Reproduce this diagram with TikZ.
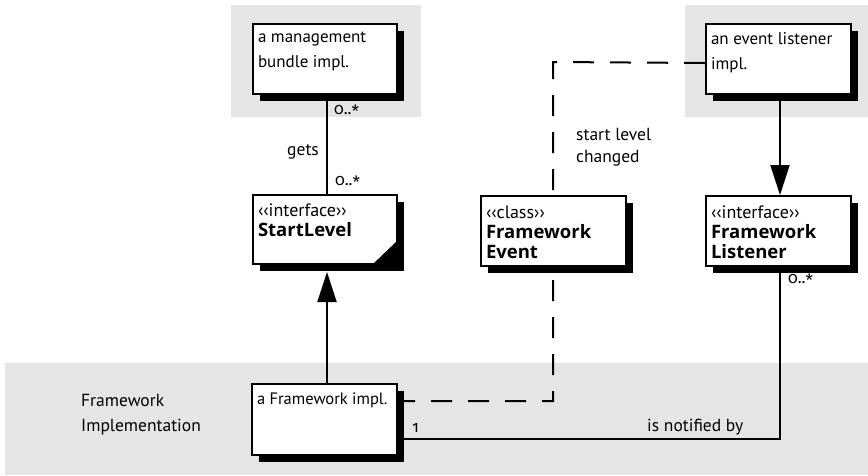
\documentclass[tikz,border=0pt]{standalone}
\usepackage{fontspec}
\setmainfont{PT Sans}
\newfontfamily\namefont{Open Sans}
\newfontfamily\multfont[Numbers=OldStyle]{Fira Sans}
\usetikzlibrary{arrows.meta,shadows}
\pgfdeclarelayer{bgfill}
\pgfdeclarelayer{lines}
\pgfsetlayers{bgfill,lines,main}
\definecolor{zonegray}{RGB}{229,229,229}
\newcommand{\bxc}[3]{\parbox[c][#1][t]{#2}{#3}}
\newcommand{\stereo}[1]{{\fontsize{18}{20}\selectfont ‹‹#1››}}
\newcommand{\umlname}[1]{{\namefont\bfseries\fontsize{18.5}{20}\selectfont #1}}
\newcommand{\mstar}{0..\raisebox{-0.35ex}{\fontsize{17}{17}\selectfont *}}
\newcommand{\clsfont}{\fontsize{18}{20}\selectfont}
\begin{document}
\begin{tikzpicture}[x=1pt,y=-1pt,
  umlbox/.style={draw, line width=2pt, fill=white, anchor=north west, inner xsep=5pt, inner ysep=4pt,
    drop shadow={shadow xshift=7pt, shadow yshift=-7pt, fill=black, opacity=1}},
  conn/.style={line width=2pt},
  dconn/.style={line width=2pt, dash pattern=on 21pt off 16pt},
  lbl/.style={inner sep=0pt, font=\fontsize{17.5}{22}\selectfont, align=left},
  mult/.style={inner sep=0pt, font=\multfont\fontsize{16}{16}\selectfont},
  zone/.style={fill=zonegray},
  tri/.style={-{Triangle[length=30pt,width=19pt]}}
]
\useasboundingbox (0,0) rectangle (868,475);
\begin{pgfonlayer}{bgfill}
\fill[zone] (231,5) rectangle (421,117);
\fill[zone] (685,5) rectangle (868,117);
\fill[zone] (5,363) rectangle (868,475);
\end{pgfonlayer}

\node[umlbox] (mgmt) at (252,23) {\bxc{62pt}{134pt}{\vspace*{4pt}\fontsize{17}{25}\selectfont a management\\bundle impl.}};
\node[umlbox] (evimpl) at (705,23) {\bxc{62pt}{135pt}{\vspace*{4pt}\fontsize{17}{25}\selectfont an event listener\\impl.}};
\node[umlbox] (sl) at (252,194) {\bxc{61pt}{134pt}{\clsfont\vspace*{5pt}\stereo{interface}\\\umlname{StartLevel}}};
\node[umlbox] (fwevent) at (480,195) {\bxc{62pt}{135pt}{\clsfont\vspace*{6pt}\stereo{class}\\\umlname{Framework}\\\umlname{Event}}};
\node[umlbox] (fwlist) at (705,195) {\bxc{62pt}{135pt}{\clsfont\vspace*{6pt}\stereo{interface}\\\umlname{Framework}\\\umlname{Listener}}};
\node[umlbox] (fwimpl) at (251,383) {\bxc{63pt}{135pt}{\vspace*{5pt}\fontsize{16.5}{20}\selectfont a Framework impl.}};

\fill (sl.south east) -- ([xshift=-26pt]sl.south east) -- ([yshift=25pt]sl.south east) -- cycle;

\coordinate (lx) at (327,0);
\coordinate (rx) at (780,0);
\coordinate (ny) at (0,439);
\coordinate (d1) at (553,62);
\coordinate (d2) at (553,401);

\begin{pgfonlayer}{lines}
\draw[conn] (mgmt.south -| lx) -- (sl.north -| lx);
\draw[dconn] ([yshift=-4pt]evimpl.west) -- (d1) -- (d2) -- (fwimpl.east |- d2);
\draw[conn] (fwimpl.east |- ny) -| (fwlist.south -| rx);
\end{pgfonlayer}
\draw[conn,tri] (fwimpl.north -| lx) -- ([yshift=-7pt]sl.south -| lx);
\draw[conn,tri] (evimpl.south -| rx) -- (fwlist.north -| rx);

\node[mult, anchor=west] (m1) at (334,111) {\mstar};
\node[mult, anchor=west] (m2) at (335,182) {\mstar};
\node[mult, anchor=west] (m3) at (788,280) {\mstar};
\node[mult, anchor=west] (m4) at (412,428) {1};
\node[lbl, anchor=east] (gets) at (319,152) {gets};
\node[lbl, anchor=west] (slc) at (576,147) {start level\\changed};
\node[lbl, anchor=west] (notif) at (647,427) {is notified by};
\node[lbl, anchor=west, font=\fontsize{17.5}{25}\selectfont] (fwlabel) at (81,415) {Framework\\Implementation};
\end{tikzpicture}
\end{document}
